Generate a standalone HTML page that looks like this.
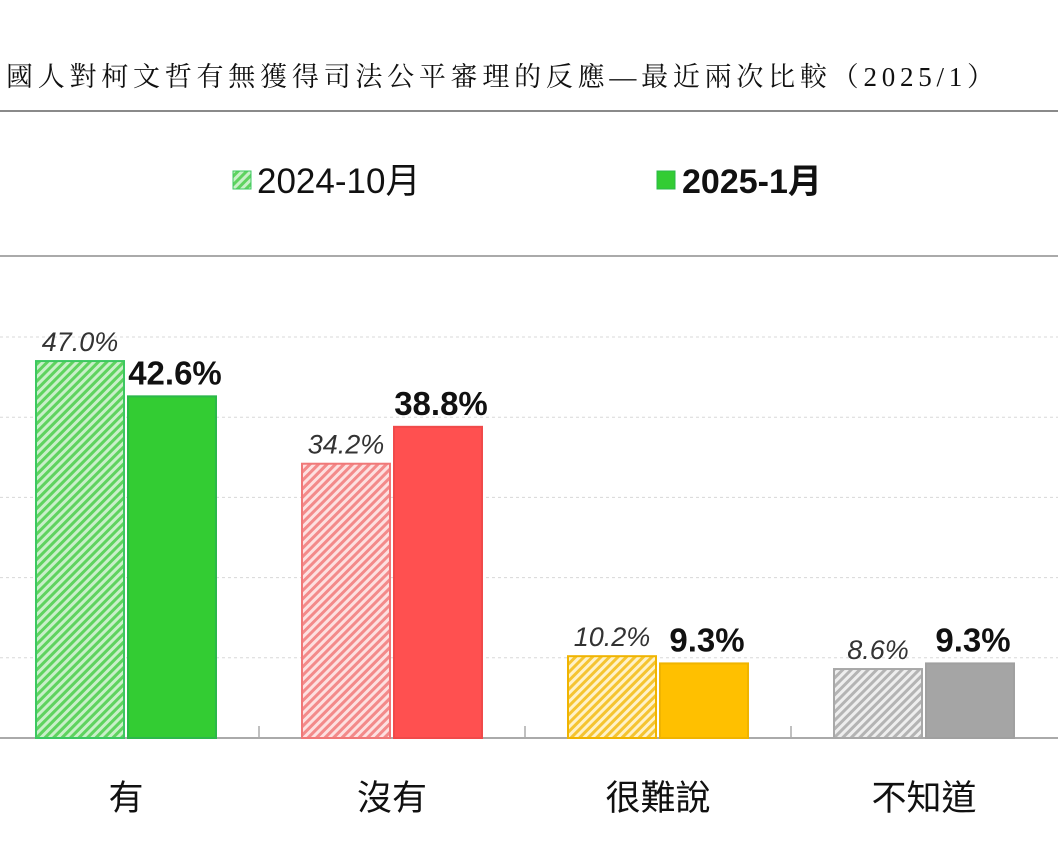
<!DOCTYPE html>
<html><head><meta charset="utf-8"><style>
body{margin:0;background:#fff;width:1058px;height:855px;overflow:hidden}
svg{display:block}
</style></head><body>
<svg width="1058" height="855">
<defs>
<pattern id="hg" patternUnits="userSpaceOnUse" width="6" height="6" patternTransform="rotate(45)"><rect width="6" height="6" fill="#c9f0c9"/><rect width="3" height="6" fill="#5fd35f"/></pattern>
<pattern id="hr" patternUnits="userSpaceOnUse" width="6" height="6" patternTransform="rotate(45)"><rect width="6" height="6" fill="#fde0e0"/><rect width="3" height="6" fill="#f38a8a"/></pattern>
<pattern id="hy" patternUnits="userSpaceOnUse" width="6" height="6" patternTransform="rotate(45)"><rect width="6" height="6" fill="#fff2c8"/><rect width="3" height="6" fill="#f5c431"/></pattern>
<pattern id="hk" patternUnits="userSpaceOnUse" width="6" height="6" patternTransform="rotate(45)"><rect width="6" height="6" fill="#eeeeee"/><rect width="3" height="6" fill="#b4b4b4"/></pattern>
</defs>
<text x="6" y="86" textLength="988" lengthAdjust="spacing" font-family="'Liberation Serif','Noto Serif CJK SC',serif" font-size="27" fill="#111">國人對柯文哲有無獲得司法公平審理的反應—最近兩次比較（2025/1）</text>
<line x1="0" y1="111" x2="1058" y2="111" stroke="#8a8a8a" stroke-width="2"/>
<g>
<rect x="233" y="171" width="18" height="18" fill="url(#hg)" stroke="#3cc860"/>
<text x="257" y="193" font-family="'Liberation Sans','Noto Sans CJK TC',sans-serif" font-size="35" fill="#111">2024-10月</text>
<rect x="657" y="171" width="18" height="18" fill="#33cc33" stroke="#2bb84a"/>
<text x="682" y="193" font-family="'Liberation Sans','Noto Sans CJK TC',sans-serif" font-size="34" font-weight="bold" fill="#111">2025-1月</text>
</g>
<line x1="0" y1="256" x2="1058" y2="256" stroke="#aaa" stroke-width="2"/>
<g id="plot"></g>
</svg>
<script>
const categories=["有","沒有","很難說","不知道"];
const prev=[47.0,34.2,10.2,8.6];
const curr=[42.6,38.8,9.3,9.3];
const gridTicks=[10,20,30,40,50];
const hatch=["url(#hg)","url(#hr)","url(#hy)","url(#hk)"];
const hatchStroke=["#3cc860","#f07878","#f0b400","#a8a8a8"];
const solid=["#33cc33","#ff5050","#ffc000","#a5a5a5"];
const solidStroke=["#2bb84a","#f04a4a","#f0b400","#a0a0a0"];
const NS="http://www.w3.org/2000/svg";
const g=document.getElementById('plot');
const base=738, k=8.02, x0=-7, step=266;
const y=v=>base-v*k;
const xc=i=>x0+step*(i+0.5);
function mk(t,a){const e=document.createElementNS(NS,t);for(const n in a)e.setAttribute(n,a[n]);g.appendChild(e);return e;}
gridTicks.forEach(v=>{const l=mk('line',{x1:0,x2:1058,y1:y(v),y2:y(v),stroke:'#d8d8d8','stroke-dasharray':'3,3'});

});
const ax=mk('line',{x1:0,x2:1058,y1:base,y2:base,stroke:'#aaa','stroke-width':2});


for(let i=1;i<categories.length;i++){const t=mk('line',{x1:x0+step*i,x2:x0+step*i,y1:base-12,y2:base,stroke:'#aaa','stroke-width':1.5});

}
const bw=88;
categories.forEach((c,i)=>{
 const cx=xc(i);
 const b1=mk('rect',{x:cx-bw-2,y:y(prev[i]),width:bw,height:base-y(prev[i]),fill:hatch[i],stroke:hatchStroke[i],'stroke-width':2});
 
 
 const b2=mk('rect',{x:cx+2,y:y(curr[i]),width:bw,height:base-y(curr[i]),fill:solid[i],stroke:solidStroke[i],'stroke-width':2});
 
 
 const t1=mk('text',{x:cx-bw/2-2,y:y(prev[i])-10,'text-anchor':'middle','font-family':"'Liberation Sans',sans-serif",'font-size':27,'font-style':'italic',fill:'#333'});
 t1.textContent=prev[i].toFixed(1)+'%';
 
 
 const t2=mk('text',{x:cx+bw/2+5,y:y(curr[i])-12,'text-anchor':'middle','font-family':"'Liberation Sans',sans-serif",'font-size':33,'font-weight':'bold',fill:'#111'});
 t2.textContent=curr[i].toFixed(1)+'%';
 
 
 const ct=mk('text',{x:cx,y:810,'text-anchor':'middle','font-family':"'Liberation Sans','Noto Sans CJK TC',sans-serif",'font-size':35,fill:'#111'});
 ct.textContent=c;
 
 
});
</script>
</body></html>
